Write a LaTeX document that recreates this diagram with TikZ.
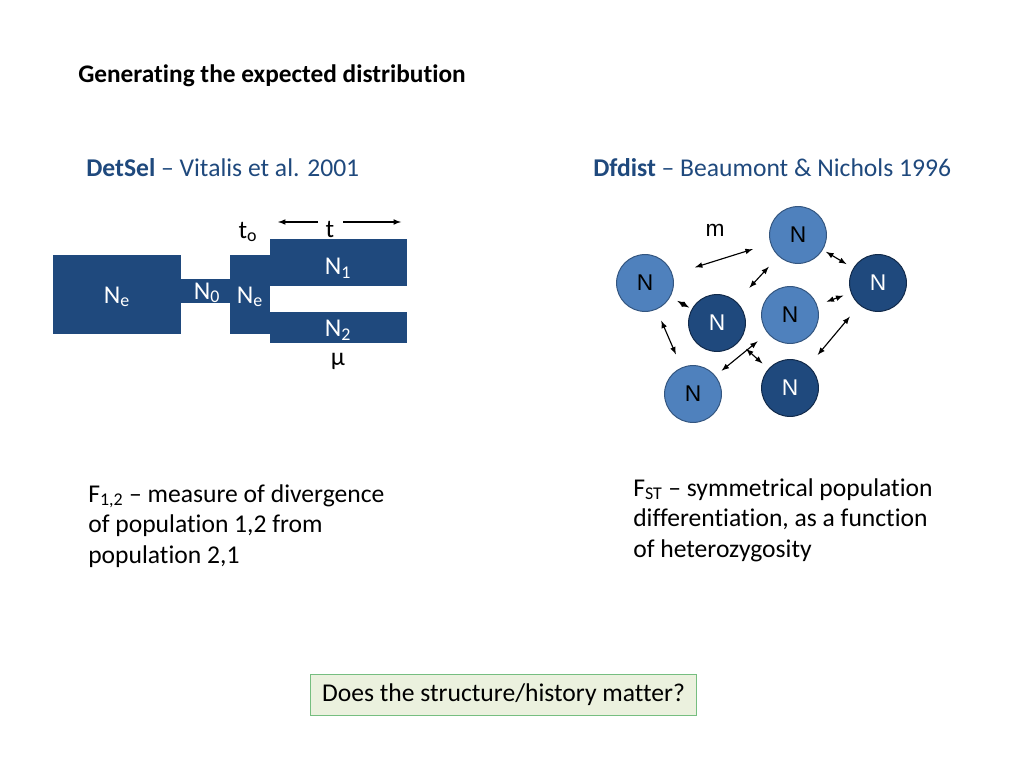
\documentclass[tikz,border=0pt]{standalone}
\usepackage{fontspec}
\setmainfont{Carlito}[Ligatures=NoCommon]
\newfontfamily\arialfont{Liberation Sans}
\usetikzlibrary{arrows,calc}

\definecolor{popblue}{RGB}{31,73,125}
\definecolor{poplight}{RGB}{79,129,189}
\definecolor{edgelight}{RGB}{52,86,128}
\definecolor{edgedark}{RGB}{18,42,74}
\definecolor{askfill}{RGB}{235,241,222}
\definecolor{askedge}{RGB}{118,190,128}

\begin{document}
\begin{tikzpicture}[x=0.703125pt,y=-0.703125pt,>=latex,
    body/.style={inner sep=0pt,font=\fontsize{18}{21.6}\selectfont},
    boxlbl/.style={body,text=white},
    popl/.style={circle,draw=edgelight,line width=0.7pt,fill=poplight,minimum size=40pt,
      inner sep=0pt,text=black,font=\arialfont\fontsize{16}{16}\selectfont},
    popd/.style={popl,draw=edgedark,fill=popblue,text=white},
    mig/.style={<->,line width=0.8pt}]
  \useasboundingbox (0,0) rectangle (1024,768);

  % headings
  \node[body,anchor=base west,font=\bfseries\fontsize{17.8}{21}\selectfont] (title) at (78,83) {Generating the expected distribution};
  \node[body,anchor=base west,text=popblue] (detsel) at (86,177) {\textbf{DetSel} -- Vitalis et al. 2001};
  \node[body,anchor=base west,text=popblue] (dfdist) at (593,177) {\textbf{Dfdist} -- Beaumont \& Nichols 1996};

  % DetSel history
  \fill[popblue] (53,255) rectangle (181,334);
  \fill[popblue] (181,279) rectangle (230,303);
  \fill[popblue] (230,255) rectangle (270,334);
  \fill[popblue] (270,239) rectangle (407,286);
  \fill[popblue] (270,312) rectangle (407,343);
  \node[boxlbl] (ne1) at (117,297) {N\textsubscript{e}};
  \node[boxlbl] (n0) at (207,293) {N\textsubscript{0}};
  \node[boxlbl] (ne2) at (250,297) {N\textsubscript{e}};
  \node[boxlbl] (n1) at (338,268) {N\textsubscript{1}};
  \node[boxlbl] (n2) at (338,330) {N\textsubscript{2}};
  \node[body] (t0) at (248,232) {t\textsubscript{o}};
  \node[body] (t) at (330,230) {t};
  \node[body] (mu) at (338,361) {µ};
  \coordinate (tl) at (278,222);
  \coordinate (tr) at (401,222);
  \coordinate (tla) at (318,222);
  \coordinate (tra) at (343,222);
  \draw[->,line width=0.8pt] (tla) -- (tl);
  \draw[->,line width=0.8pt] (tra) -- (tr);

  % island model
  \node[popl] (c1) at (798,235) {N};
  \node[popl] (c2) at (645,283) {N};
  \node[popd] (c3) at (878,283) {N};
  \node[popd] (c4) at (717,323) {N};
  \node[popl] (c5) at (790,315) {N};
  \node[popl] (c6) at (693,394) {N};
  \node[popd] (c7) at (790,388) {N};
  \node[body,font=\arialfont\fontsize{16}{16}\selectfont] (m) at (715,230) {m};
  \draw[mig,shorten <=16.5pt,shorten >=13pt] (c2) -- (c1);
  \draw[mig,shorten <=2.7pt,shorten >=5.5pt] (c1) -- (c3);
  \draw[mig,shorten <=13.3pt,shorten >=10pt] (c4) -- (c1);
  \draw[mig,shorten <=7pt,shorten >=5.6pt] (c5) -- (c3);
  \draw[mig,shorten <=5.6pt,shorten >=2pt] (c2) -- (c4);
  \draw[mig,shorten <=8.5pt,shorten >=10pt] (c2) -- (c6);
  \draw[mig,shorten <=5.6pt,shorten >=9pt] (c6) -- (c5);
  \draw[mig,shorten <=7pt,shorten >=5.6pt] (c4) -- (c7);
  \draw[mig,shorten <=10pt,shorten >=10.5pt] (c7) -- (c3);

  % captions
  \node[body,anchor=north west,align=left] (f12) at (88,484) {F\textsubscript{1,2} -- measure of divergence\\of population 1,2 from\\population 2,1};
  \node[body,anchor=north west,align=left] (fst) at (633,478) {F\textsubscript{ST} -- symmetrical population\\differentiation, as a function\\of heterozygosity};

  % question
  \node[body,draw=askedge,fill=askfill,line width=0.7pt,minimum width=272pt,minimum height=29.5pt] (ask) at (503.5,695) {Does the structure/history matter?};
\end{tikzpicture}
\end{document}
